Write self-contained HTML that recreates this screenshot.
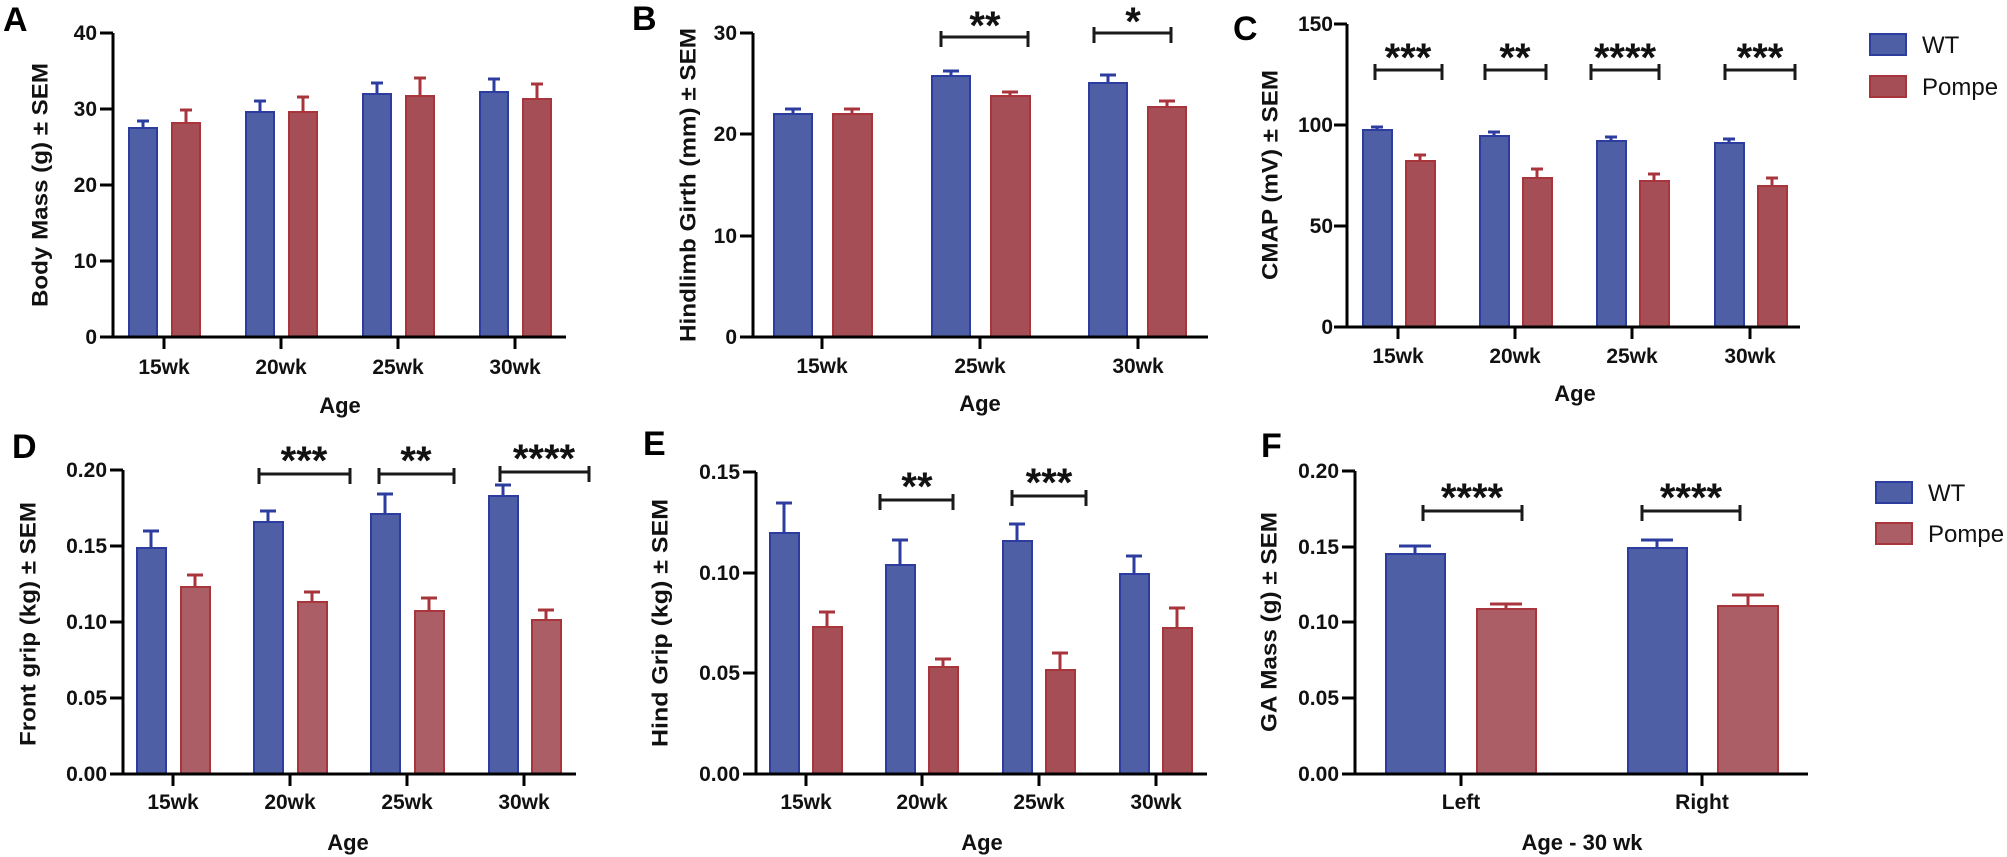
<!DOCTYPE html>
<html><head><meta charset="utf-8"><style>
html,body{margin:0;padding:0;background:#fff;}
svg{display:block;font-family:"Liberation Sans",Arial,sans-serif;}
.w{fill:#4f5fa6;stroke:#2d3d9f;stroke-width:2}
.p{fill:#a64e55;stroke:#a8343c;stroke-width:2}
.p2{fill:#ab5e66;stroke:#a8343c;stroke-width:2}
.ew{stroke:#2d3d9f;stroke-width:3;fill:none}
.ep{stroke:#a8343c;stroke-width:3;fill:none}
.ax{stroke:#000;stroke-width:3;fill:none}
.br{stroke:#1a1a1a;stroke-width:3;fill:none}
.t{font-size:21px;font-weight:bold;fill:#111}
.yl{text-anchor:end}
.xl{text-anchor:middle}
.tt{font-size:22px;font-weight:bold;fill:#111;text-anchor:middle;dominant-baseline:central}
.L{font-size:34px;font-weight:bold;fill:#000}
.s{font-size:40px;font-weight:bold;fill:#111;text-anchor:middle}
.lg{font-size:24px;fill:#111}
</style></head><body>
<svg width="2007" height="857" viewBox="0 0 2007 857" xmlns="http://www.w3.org/2000/svg">
<!-- Panel A -->
<text class="L" x="3" y="31">A</text>
<text class="tt" transform="translate(40,185) rotate(-90)" textLength="244" lengthAdjust="spacingAndGlyphs">Body Mass (g) ± SEM</text>
<g class="t yl"><text x="97" y="40">40</text><text x="97" y="116">30</text><text x="97" y="192">20</text><text x="97" y="268">10</text><text x="97" y="344">0</text></g>
<rect class="w" x="129" y="128" width="28" height="209"/><rect class="p" x="172" y="123" width="28" height="214"/>
<rect class="w" x="246" y="112" width="28" height="225"/><rect class="p" x="289" y="112" width="28" height="225"/>
<rect class="w" x="363" y="94" width="28" height="243"/><rect class="p" x="406" y="96" width="28" height="241"/>
<rect class="w" x="480" y="92" width="28" height="245"/><rect class="p" x="523" y="99" width="28" height="238"/>
<path class="ew" d="M143 128V121M137 121H149M260 112V101M254 101H266M377 94V83M371 83H383M494 92V79M488 79H500"/>
<path class="ep" d="M186 123V110M180 110H192M303 112V97M297 97H309M420 96V78M414 78H426M537 99V84M531 84H543"/>
<path class="ax" d="M113 33V337H566M100 33H113M100 109H113M100 185H113M100 261H113M100 337H113M164 337V349M281 337V349M398 337V349M515 337V349"/>
<g class="t xl"><text x="164" y="374">15wk</text><text x="281" y="374">20wk</text><text x="398" y="374">25wk</text><text x="515" y="374">30wk</text><text x="340" y="413" style="font-size:22px">Age</text></g>

<!-- Panel B -->
<text class="L" x="632" y="30">B</text>
<text class="tt" transform="translate(688,185) rotate(-90)" textLength="314" lengthAdjust="spacingAndGlyphs">Hindlimb Girth (mm) ± SEM</text>
<g class="t yl"><text x="737" y="40">30</text><text x="737" y="141">20</text><text x="737" y="243">10</text><text x="737" y="344">0</text></g>
<rect class="w" x="774" y="114" width="38" height="223"/><rect class="p" x="833" y="114" width="39" height="223"/>
<rect class="w" x="932" y="76" width="38" height="261"/><rect class="p" x="991" y="96" width="39" height="241"/>
<rect class="w" x="1089" y="83" width="38" height="254"/><rect class="p" x="1148" y="107" width="38" height="230"/>
<path class="ew" d="M793 114V109M785 109H801M951 76V71M943 71H959M1108 83V75M1100 75H1116"/>
<path class="ep" d="M852 114V109M844 109H860M1010 96V92M1002 92H1018M1167 107V101M1159 101H1175"/>
<path class="ax" d="M753 33V337H1208M740 33H753M740 134H753M740 236H753M740 337H753M822 337V349M980 337V349M1138 337V349"/>
<g class="t xl"><text x="822" y="373">15wk</text><text x="980" y="373">25wk</text><text x="1138" y="373">30wk</text><text x="980" y="411" style="font-size:22px">Age</text></g>
<path class="br" d="M941 37H1028M941 31V47M1028 31V47M1094 33H1171M1094 27V43M1171 27V43"/>
<text class="s" x="985" y="39">**</text><text class="s" x="1133" y="35">*</text>

<!-- Panel C -->
<text class="L" x="1233" y="40">C</text>
<text class="tt" transform="translate(1270,175) rotate(-90)" textLength="210" lengthAdjust="spacingAndGlyphs">CMAP (mV) ± SEM</text>
<g class="t yl"><text x="1333" y="31">150</text><text x="1333" y="132">100</text><text x="1333" y="233">50</text><text x="1333" y="334">0</text></g>
<rect class="w" x="1363" y="130" width="29" height="197"/><rect class="p" x="1406" y="161" width="29" height="166"/>
<rect class="w" x="1480" y="136" width="29" height="191"/><rect class="p" x="1523" y="178" width="29" height="149"/>
<rect class="w" x="1597" y="141" width="29" height="186"/><rect class="p" x="1640" y="181" width="29" height="146"/>
<rect class="w" x="1715" y="143" width="29" height="184"/><rect class="p" x="1758" y="186" width="29" height="141"/>
<path class="ew" d="M1377 130V127M1371 127H1383M1494 136V132M1488 132H1500M1611 141V137M1605 137H1617M1729 143V139M1723 139H1735"/>
<path class="ep" d="M1420 161V155M1414 155H1426M1537 178V169M1531 169H1543M1654 181V174M1648 174H1660M1772 186V178M1766 178H1778"/>
<path class="ax" d="M1347 24V327H1800M1334 24H1347M1334 125H1347M1334 226H1347M1334 327H1347M1398 327V339M1515 327V339M1632 327V339M1750 327V339"/>
<g class="t xl"><text x="1398" y="363">15wk</text><text x="1515" y="363">20wk</text><text x="1632" y="363">25wk</text><text x="1750" y="363">30wk</text><text x="1575" y="401" style="font-size:22px">Age</text></g>
<path class="br" d="M1375 70H1442M1375 64V80M1442 64V80M1485 70H1546M1485 64V80M1546 64V80M1591 70H1659M1591 64V80M1659 64V80M1725 70H1795M1725 64V80M1795 64V80"/>
<text class="s" x="1408" y="71">***</text><text class="s" x="1515" y="71">**</text><text class="s" x="1625" y="71">****</text><text class="s" x="1760" y="71">***</text>

<!-- Legend 1 -->
<rect class="w" x="1870" y="34" width="36" height="21"/><text class="lg" x="1922" y="53">WT</text>
<rect class="p" x="1870" y="76" width="36" height="21"/><text class="lg" x="1922" y="95">Pompe</text>

<!-- Panel D -->
<text class="L" x="12" y="458">D</text>
<text class="tt" transform="translate(28,624) rotate(-90)" textLength="244" lengthAdjust="spacingAndGlyphs">Front grip (kg) ± SEM</text>
<g class="t yl"><text x="107" y="477">0.20</text><text x="107" y="553">0.15</text><text x="107" y="629">0.10</text><text x="107" y="705">0.05</text><text x="107" y="781">0.00</text></g>
<rect class="w" x="137" y="548" width="29" height="226"/><rect class="p2" x="181" y="587" width="29" height="187"/>
<rect class="w" x="254" y="522" width="29" height="252"/><rect class="p2" x="298" y="602" width="29" height="172"/>
<rect class="w" x="371" y="514" width="29" height="260"/><rect class="p2" x="415" y="611" width="29" height="163"/>
<rect class="w" x="489" y="496" width="29" height="278"/><rect class="p2" x="532" y="620" width="29" height="154"/>
<path class="ew" d="M151 548V531M143 531H159M268 522V511M260 511H276M385 514V494M377 494H393M503 496V485M495 485H511"/>
<path class="ep" d="M195 587V575M187 575H203M312 602V592M304 592H320M429 611V598M421 598H437M546 620V610M538 610H554"/>
<path class="ax" d="M123 470V774H576M110 470H123M110 546H123M110 622H123M110 698H123M110 774H123M173 774V786M290 774V786M407 774V786M524 774V786"/>
<g class="t xl"><text x="173" y="809">15wk</text><text x="290" y="809">20wk</text><text x="407" y="809">25wk</text><text x="524" y="809">30wk</text><text x="348" y="850" style="font-size:22px">Age</text></g>
<path class="br" d="M259 474H350M259 468V484M350 468V484M379 474H454M379 468V484M454 468V484M500 472H589M500 466V482M589 466V482"/>
<text class="s" x="304" y="474">***</text><text class="s" x="416" y="474">**</text><text class="s" x="544" y="472">****</text>

<!-- Panel E -->
<text class="L" x="643" y="455">E</text>
<text class="tt" transform="translate(660,623) rotate(-90)" textLength="248" lengthAdjust="spacingAndGlyphs">Hind Grip  (kg) ± SEM</text>
<g class="t yl"><text x="740" y="479">0.15</text><text x="740" y="580">0.10</text><text x="740" y="680">0.05</text><text x="740" y="781">0.00</text></g>
<rect class="w" x="770" y="533" width="29" height="241"/><rect class="p" x="813" y="627" width="29" height="147"/>
<rect class="w" x="886" y="565" width="29" height="209"/><rect class="p" x="929" y="667" width="29" height="107"/>
<rect class="w" x="1003" y="541" width="29" height="233"/><rect class="p" x="1046" y="670" width="29" height="104"/>
<rect class="w" x="1120" y="574" width="29" height="200"/><rect class="p" x="1163" y="628" width="29" height="146"/>
<path class="ew" d="M784 533V503M776 503H792M900 565V540M892 540H908M1017 541V524M1009 524H1025M1134 574V556M1126 556H1142"/>
<path class="ep" d="M827 627V612M819 612H835M943 667V659M935 659H951M1060 670V653M1052 653H1068M1177 628V608M1169 608H1185"/>
<path class="ax" d="M756 472V774H1207M743 472H756M743 573H756M743 673H756M743 774H756M806 774V786M922 774V786M1039 774V786M1156 774V786"/>
<g class="t xl"><text x="806" y="809">15wk</text><text x="922" y="809">20wk</text><text x="1039" y="809">25wk</text><text x="1156" y="809">30wk</text><text x="982" y="850" style="font-size:22px">Age</text></g>
<path class="br" d="M880 500H953M880 494V510M953 494V510M1012 496H1086M1012 490V506M1086 490V506"/>
<text class="s" x="917" y="500">**</text><text class="s" x="1049" y="496">***</text>

<!-- Panel F -->
<text class="L" x="1261" y="457">F</text>
<text class="tt" transform="translate(1269,622) rotate(-90)" textLength="220" lengthAdjust="spacingAndGlyphs">GA Mass (g) ± SEM</text>
<g class="t yl"><text x="1339" y="478">0.20</text><text x="1339" y="554">0.15</text><text x="1339" y="629">0.10</text><text x="1339" y="705">0.05</text><text x="1339" y="781">0.00</text></g>
<rect class="w" x="1386" y="554" width="59" height="220"/><rect class="p2" x="1477" y="609" width="59" height="165"/>
<rect class="w" x="1628" y="548" width="59" height="226"/><rect class="p2" x="1718" y="606" width="60" height="168"/>
<path class="ew" d="M1415 554V546M1399 546H1431M1657 548V540M1641 540H1673"/>
<path class="ep" d="M1506 609V604M1490 604H1522M1748 606V595M1732 595H1764"/>
<path class="ax" d="M1355 471V774H1808M1342 471H1355M1342 547H1355M1342 622H1355M1342 698H1355M1342 774H1355M1461 774V786M1702 774V786"/>
<g class="t xl"><text x="1461" y="809">Left</text><text x="1702" y="809">Right</text><text x="1582" y="850" style="font-size:22px">Age - 30 wk</text></g>
<path class="br" d="M1423 511H1522M1423 505V521M1522 505V521M1642 511H1740M1642 505V521M1740 505V521"/>
<text class="s" x="1472" y="511">****</text><text class="s" x="1691" y="511">****</text>

<!-- Legend 2 -->
<rect class="w" x="1876" y="482" width="36" height="21"/><text class="lg" x="1928" y="501">WT</text>
<rect class="p2" x="1876" y="523" width="36" height="21"/><text class="lg" x="1928" y="542">Pompe</text>
</svg>
</body></html>
